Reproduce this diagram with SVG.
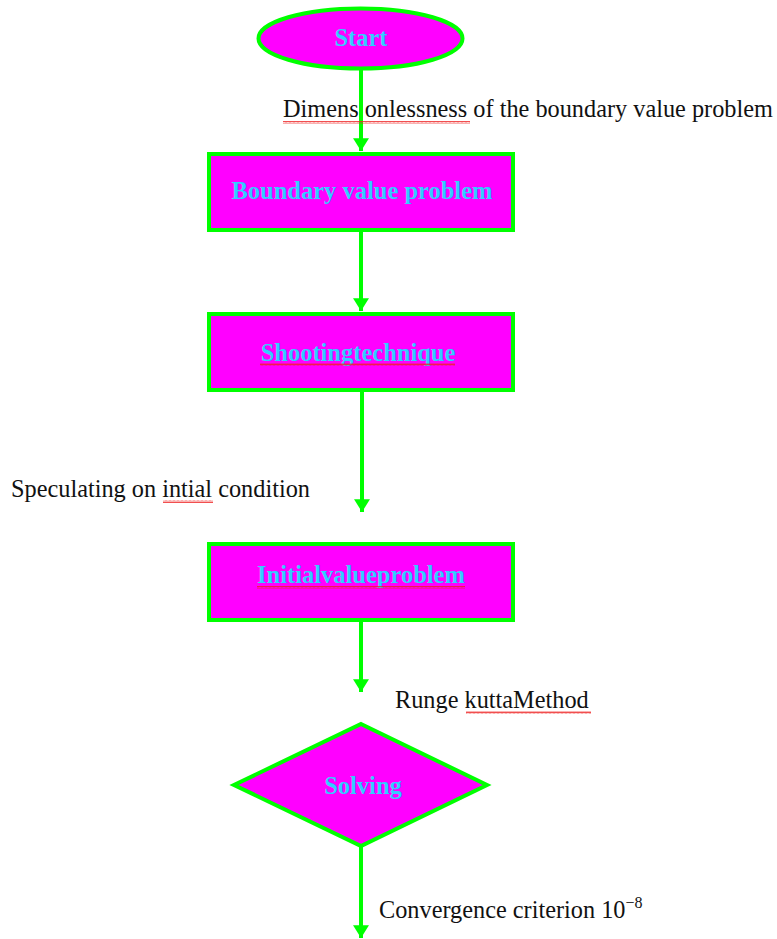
<svg xmlns="http://www.w3.org/2000/svg" width="777" height="939" viewBox="0 0 777 939">
<style>
.node{fill:#ff00ff;stroke:#00ff00;stroke-width:4}
.nt{font-family:"Liberation Serif","Times New Roman",serif;font-weight:bold;font-size:24.5px;fill:#33ccff;text-anchor:middle}
.lbl{font-family:"Liberation Serif","Times New Roman",serif;font-size:24.3px;fill:#111}
.conn{stroke:#00ff00;stroke-width:4;fill:none}
.wavy{fill:url(#wave)}
</style>
<defs>
<marker id="arr" markerWidth="4" markerHeight="4" refX="3.2" refY="2" orient="auto" markerUnits="strokeWidth">
<path d="M0,0 L3.2,2 L0,4 Z" fill="#00ff00"/>
</marker>
<pattern id="wave" width="4" height="3" patternUnits="userSpaceOnUse">
<path d="M0,2.5 L1,0.5 L2,2.5 L3,0.5 L4,2.5" stroke="#ee2222" stroke-width="0.8" fill="none"/>
</pattern>
</defs>
<g id="connectors">
<line class="conn" x1="361" y1="70" x2="361" y2="151" marker-end="url(#arr)"/>
<line class="conn" x1="361" y1="232" x2="361" y2="311" marker-end="url(#arr)"/>
<line class="conn" x1="362" y1="392" x2="362" y2="512" marker-end="url(#arr)"/>
<line class="conn" x1="361" y1="622" x2="361" y2="692" marker-end="url(#arr)"/>
<line class="conn" x1="361" y1="846" x2="361" y2="938" marker-end="url(#arr)"/>
</g>
<g id="start">
<ellipse class="node" cx="360.5" cy="38.5" rx="102" ry="30"/>
<text class="nt" x="361" y="46">Start</text>
</g>
<g id="label-dimensionless">
<text class="lbl" x="283" y="117">Dimens onlessness of the boundary value problem</text>
<rect class="wavy" x="283" y="121" width="187" height="3"/>
</g>
<g id="bvp">
<rect class="node" x="209" y="154" width="304" height="76"/>
<text class="nt" x="362" y="199">Boundary value problem</text>
</g>
<g id="shooting">
<rect class="node" x="209" y="314" width="304" height="76"/>
<text class="nt" x="358" y="361">Shootingtechnique</text>
<rect class="wavy" x="260" y="363" width="195" height="3"/>
</g>
<g id="label-speculating">
<text class="lbl" x="11" y="497">Speculating on intial condition</text>
<rect class="wavy" x="163" y="500" width="50" height="3"/>
</g>
<g id="ivp">
<rect class="node" x="209" y="544" width="304" height="76"/>
<text class="nt" x="361" y="583">Initialvalueproblem</text>
<rect class="wavy" x="257" y="586" width="208" height="3"/>
</g>
<g id="label-runge">
<text class="lbl" x="395" y="708">Runge kuttaMethod</text>
<rect class="wavy" x="466" y="711" width="125" height="3"/>
</g>
<g id="solving">
<polygon class="node" points="361,724 487,785 361,846 234,785"/>
<text class="nt" x="363" y="794">Solving</text>
</g>
<g id="label-convergence">
<text class="lbl" x="379" y="918">Convergence criterion 10<tspan font-size="16" dy="-10">−8</tspan></text>
</g>
</svg>
